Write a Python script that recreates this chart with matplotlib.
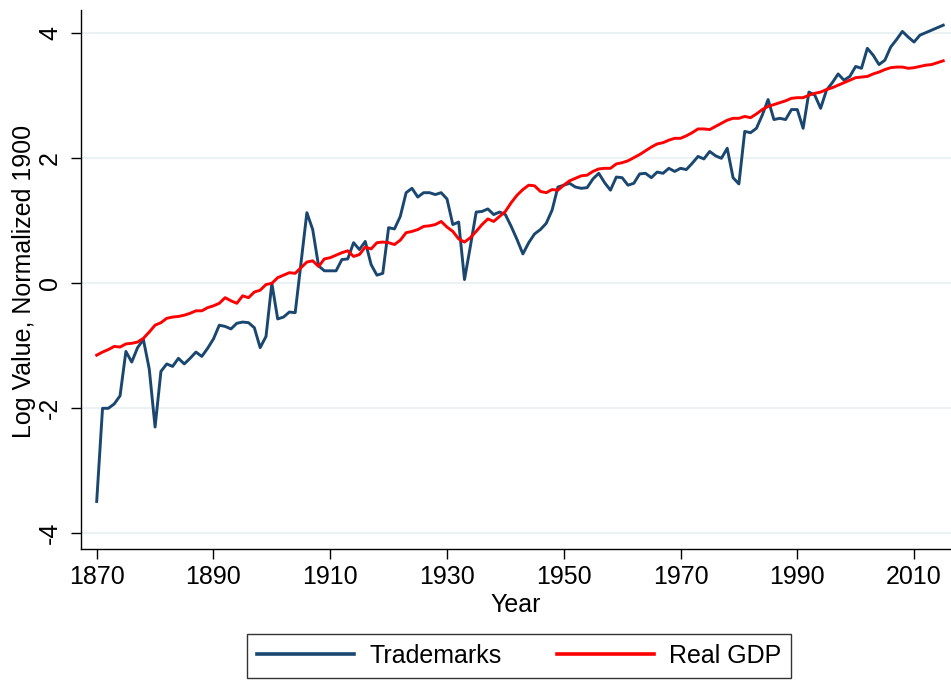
import matplotlib
matplotlib.use("Agg")
import matplotlib.pyplot as plt
import numpy as np

plt.rcParams['font.family'] = ['Liberation Sans', 'DejaVu Sans']

years = list(range(1870, 2016))

trademarks = [
    # 1870s
    -3.49, -2.00, -2.00, -1.93, -1.80, -1.09, -1.26, -1.03, -0.90, -1.37,
    # 1880s
    -2.30, -1.41, -1.29, -1.33, -1.20, -1.29, -1.20, -1.10, -1.17, -1.04,
    # 1890s
    -0.89, -0.67, -0.69, -0.73, -0.64, -0.62, -0.63, -0.71, -1.03, -0.85,
    # 1900s
    0.00, -0.57, -0.54, -0.46, -0.47, 0.33, 1.13, 0.86, 0.28, 0.20,
    # 1910s
    0.20, 0.20, 0.38, 0.39, 0.65, 0.54, 0.67, 0.30, 0.13, 0.16,
    # 1920s
    0.89, 0.87, 1.07, 1.45, 1.52, 1.38, 1.45, 1.45, 1.42, 1.45,
    # 1930s
    1.35, 0.94, 0.98, 0.06, 0.59, 1.14, 1.15, 1.19, 1.10, 1.14,
    # 1940s
    1.10, 0.91, 0.70, 0.47, 0.65, 0.79, 0.86, 0.96, 1.17, 1.54,
    # 1950s
    1.57, 1.60, 1.54, 1.52, 1.53, 1.67, 1.76, 1.61, 1.49, 1.70,
    # 1960s
    1.69, 1.57, 1.60, 1.75, 1.76, 1.69, 1.78, 1.76, 1.84, 1.79,
    # 1970s
    1.84, 1.82, 1.92, 2.03, 1.99, 2.11, 2.04, 2.00, 2.16, 1.69,
    # 1980s
    1.59, 2.43, 2.41, 2.48, 2.69, 2.94, 2.62, 2.64, 2.62, 2.78,
    # 1990s
    2.78, 2.48, 3.06, 3.01, 2.80, 3.09, 3.21, 3.35, 3.25, 3.31,
    # 2000s
    3.47, 3.44, 3.76, 3.65, 3.50, 3.57, 3.78, 3.90, 4.03, 3.94,
    # 2010-2015
    3.86, 3.97, 4.01, 4.05, 4.09, 4.13,
]

real_gdp = [
    # 1870s
    -1.15, -1.10, -1.06, -1.01, -1.02, -0.97, -0.96, -0.94, -0.88, -0.78,
    # 1880s
    -0.67, -0.63, -0.56, -0.54, -0.53, -0.51, -0.48, -0.44, -0.44, -0.39,
    # 1890s
    -0.36, -0.32, -0.23, -0.28, -0.32, -0.20, -0.23, -0.14, -0.11, -0.02,
    # 1900s
    0.00, 0.09, 0.13, 0.17, 0.16, 0.25, 0.34, 0.36, 0.27, 0.39,
    # 1910s
    0.41, 0.45, 0.49, 0.52, 0.43, 0.46, 0.58, 0.55, 0.65, 0.66,
    # 1920s
    0.65, 0.62, 0.69, 0.81, 0.83, 0.86, 0.91, 0.92, 0.94, 0.99,
    # 1930s
    0.90, 0.83, 0.71, 0.66, 0.73, 0.83, 0.94, 1.03, 0.99, 1.07,
    # 1940s
    1.15, 1.29, 1.41, 1.50, 1.57, 1.56, 1.47, 1.45, 1.50, 1.49,
    # 1950s
    1.57, 1.64, 1.68, 1.72, 1.73, 1.79, 1.83, 1.84, 1.84, 1.91,
    # 1960s
    1.93, 1.96, 2.01, 2.06, 2.12, 2.18, 2.23, 2.25, 2.29, 2.32,
    # 1970s
    2.32, 2.36, 2.41, 2.47, 2.47, 2.46, 2.51, 2.56, 2.61, 2.64,
    # 1980s
    2.64, 2.67, 2.65, 2.71, 2.78, 2.83, 2.86, 2.89, 2.92, 2.96,
    # 1990s
    2.97, 2.97, 3.01, 3.04, 3.06, 3.10, 3.13, 3.17, 3.21, 3.25,
    # 2000s
    3.29, 3.30, 3.31, 3.35, 3.38, 3.42, 3.45, 3.46, 3.46, 3.44,
    # 2010-2015
    3.45, 3.47, 3.49, 3.50, 3.53, 3.56,
]

x_ticks = [1870, 1890, 1910, 1930, 1950, 1970, 1990, 2010]
y_ticks = [-4, -2, 0, 2, 4]
series_labels = ["Trademarks", "Real GDP"]

W, H = 951, 681
fig = plt.figure(figsize=(W / 100, H / 100), dpi=100)
ax = fig.add_axes([80.7 / W, (H - 549.3) / H, (W - 80.7) / W, (549.3 - 10) / H])

fs = 18
ax.plot(years, trademarks, color='#1a476f', lw=2.1, label=series_labels[0],
        solid_joinstyle='round', zorder=3)
ax.plot(years, real_gdp, color='#ff0000', lw=2.1, label=series_labels[1],
        solid_joinstyle='round', zorder=4)

ax.set_xlim(1867.26, 2016.33)
ax.set_ylim(-4.256, 4.373)
ax.set_xticks(x_ticks)
ax.set_yticks(y_ticks)
ax.set_yticklabels([str(v) for v in y_ticks], rotation=90, va='center')
ax.grid(axis='y', color='#eaf2f3', lw=1.5, zorder=0)
ax.set_axisbelow(True)

for s in ['top', 'right']:
    ax.spines[s].set_visible(False)
for s in ['left', 'bottom']:
    ax.spines[s].set_linewidth(1.0)
    ax.spines[s].set_color('black')

ax.tick_params(axis='both', length=7.5, width=1.0, labelsize=fs, color='black')
ax.tick_params(axis='x', pad=4)
ax.tick_params(axis='y', pad=6)

ax.set_xlabel("Year", fontsize=fs, labelpad=3)
fig.text(24 / W, (H - 281) / H, "Log Value, Normalized 1900", rotation=90,
         ha='center', va='center', fontsize=fs)

leg = fig.legend(loc='center', bbox_to_anchor=(519 / W, (H - 656) / H), ncol=2,
                 fontsize=fs, frameon=True, fancybox=False, handlelength=3.9,
                 handletextpad=0.6, columnspacing=2.2, borderpad=0.4)
leg.get_frame().set_edgecolor('black')
leg.get_frame().set_linewidth(1.0)
for line in leg.get_lines():
    line.set_linewidth(2.6)

fig.savefig("out.png", dpi=100)
